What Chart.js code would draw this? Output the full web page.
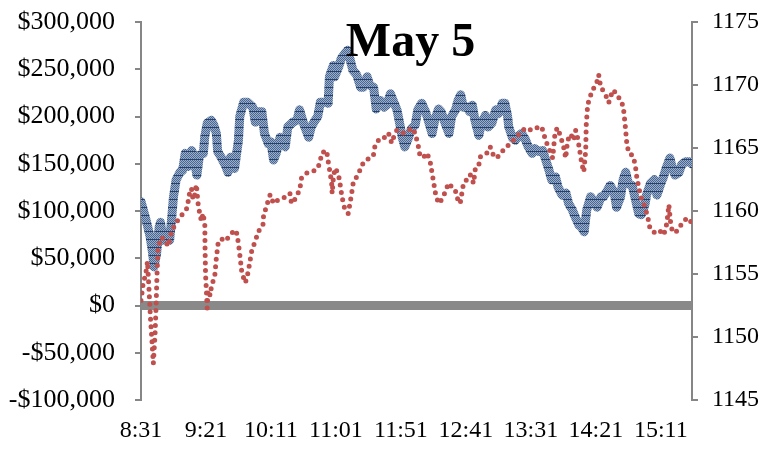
<!DOCTYPE html>
<html>
<head>
<meta charset="utf-8">
<script src="https://cdn.jsdelivr.net/npm/chart.js@4"></script>
<style>
  html, body { margin: 0; padding: 0; background: #fff; }
  #wrap { width: 774px; height: 454px; }
</style>
</head>
<body>
<div id="wrap"><canvas id="chart" width="774" height="454"></canvas></div>
<script>
const TITLE = 'May 5';

// x is minutes after 8:31
const xTickMinutes = [0, 50, 100, 150, 200, 250, 300, 350, 400];
const xTickLabels = ['8:31', '9:21', '10:11', '11:01', '11:51', '12:41', '13:31', '14:21', '15:11'];
const xMax = 424;

// blue series, left axis ($ thousands)
const blueMinutes = [
  0, 4, 7, 9, 10, 12, 14, 15, 17, 19, 22, 23, 25, 27, 30, 32, 34, 36, 39, 41,
  43, 45, 48, 49, 51, 54, 56, 58, 59, 62, 65, 67, 69, 72, 75, 76, 79, 82, 86, 88,
  90, 93, 95, 98, 100, 102, 104, 107, 111, 113, 117, 120, 122, 125, 129, 131, 134, 136, 138, 142,
  144, 145, 148, 149, 152, 154, 157, 159, 161, 163, 166, 169, 171, 174, 176, 179, 181, 184, 187, 189,
  192, 194, 197, 199, 201, 203, 206, 208, 211, 213, 216, 219, 221, 224, 226, 229, 231, 234, 237, 239,
  242, 244, 246, 248, 251, 253, 255, 257, 260, 262, 265, 267, 270, 273, 275, 278, 280, 282, 283, 286,
  288, 291, 293, 296, 298, 301, 303, 306, 309, 311, 314, 316, 319, 321, 324, 327, 329, 332, 334, 337,
  339, 341, 343, 346, 348, 351, 354, 356, 359, 361, 364, 366, 369, 371, 373, 375, 378, 380, 383, 385,
  388, 389, 392, 395, 397, 400, 402, 404, 407, 409, 411, 414, 416, 419, 422, 424
];
const blueValues = [
  110, 90, 73, 55, 41, 55, 83, 88, 69, 77, 69, 83, 115, 133, 141, 143, 161, 147, 164, 154,
  138, 159, 161, 178, 193, 196, 191, 182, 163, 156, 148, 141, 157, 145, 175, 200, 215, 215, 210, 194,
  205, 205, 182, 171, 173, 154, 161, 178, 168, 189, 194, 196, 207, 193, 178, 189, 196, 200, 215, 215,
  214, 242, 254, 242, 252, 261, 267, 270, 260, 249, 244, 231, 231, 242, 233, 231, 208, 217, 210, 212,
  224, 217, 207, 193, 178, 168, 178, 187, 191, 207, 214, 205, 196, 182, 196, 208, 205, 193, 182, 200,
  207, 217, 223, 210, 210, 205, 212, 196, 180, 193, 201, 189, 193, 207, 203, 214, 214, 201, 189, 177,
  175, 180, 182, 175, 168, 161, 166, 163, 164, 156, 143, 133, 136, 125, 117, 119, 108, 101, 94, 85,
  83, 78, 101, 115, 111, 104, 115, 115, 122, 127, 120, 104, 115, 133, 141, 129, 127, 115, 97, 96,
  108, 117, 129, 133, 117, 129, 136, 145, 156, 145, 138, 141, 149, 152, 152, 150
];

// red series, right axis (index level)
const redMinutes = [
  0, 1.5, 3.9, 5.0, 6.2, 7.3, 8.5, 9.5, 10.8, 11.6, 12.3, 13.1, 15.6, 18.5, 20.8, 23.4, 26.0, 29.8, 32.4, 34.9,
  36.2, 37.5, 38.8, 40.1, 41.4, 42.6, 43.9, 45.2, 46.5, 47.8, 49.1, 49.3, 49.7, 50.5, 50.9, 51.6, 53.2, 54.2, 56.8, 58.0,
  59.3, 61.9, 65.0, 68.6, 72.4, 73.8, 75.0, 76.3, 77.6, 80.2, 81.5, 82.7, 84.0, 85.3, 87.9, 90.4, 93.8, 94.3, 96.9, 99.4,
  102.0, 105.8, 110.8, 114.6, 115.8, 119.7, 122.3, 123.5, 127.4, 131.3, 135.1, 137.7, 139.0, 142.8, 144.1, 145.4, 146.7, 147.1, 148.0, 149.3,
  151.8, 153.1, 154.4, 155.7, 157.0, 159.5, 160.8, 162.1, 163.4, 167.2, 169.8, 172.4, 176.3, 178.8, 180.1, 182.7, 185.2, 187.8, 190.4, 192.9,
  194.2, 196.8, 199.4, 201.9, 204.5, 208.3, 210.9, 213.5, 214.8, 217.6, 220.2, 222.7, 224.0, 225.3, 226.6, 228.9, 231.4, 234.1, 236.6, 239.2,
  241.8, 243.0, 245.6, 246.9, 248.2, 250.7, 253.3, 255.9, 257.2, 259.7, 261.0, 263.6, 266.1, 268.7, 271.3, 273.8, 277.7, 281.5, 285.4, 289.2,
  291.9, 295.7, 300.8, 304.7, 308.3, 311.4, 314.5, 316.8, 318.7, 320.6, 322.9, 325.2, 326.8, 328.3, 330.6, 333.0, 334.5, 336.0, 337.6, 339.1,
  340.7, 342.2, 342.6, 343.7, 345.3, 347.6, 350.7, 352.2, 353.8, 355.3, 357.6, 359.9, 361.5, 363.0, 365.3, 367.6, 369.9, 371.5, 372.6, 373.8,
  375.3, 378.4, 380.3, 381.5, 383.0, 384.6, 386.9, 388.4, 390.0, 391.5, 394.6, 398.5, 402.3, 404.6, 406.2, 407.7, 409.2, 412.3, 416.2, 419.6,
  422.7, 424
];
const redPrices = [
  1152.9, 1154.1, 1155.2, 1156.0, 1153.7, 1151.5, 1149.6, 1147.9, 1150.2, 1152.5, 1154.9, 1157.1, 1157.9, 1157.7, 1157.2, 1158.3, 1158.9, 1159.5, 1159.8, 1160.1,
  1160.7, 1161.5, 1161.8, 1160.9, 1161.3, 1162.1, 1160.6, 1159.8, 1159.2, 1159.8, 1158.9, 1156.9, 1154.9, 1153.3, 1152.3, 1153.7, 1153.3, 1154.0, 1154.9, 1156.3,
  1157.4, 1157.8, 1157.6, 1158.1, 1158.5, 1158.2, 1157.4, 1156.3, 1155.1, 1154.3, 1154.7, 1155.3, 1156.1, 1156.9, 1157.6, 1158.4, 1158.8, 1159.6, 1160.5, 1161.3,
  1160.6, 1160.9, 1161.1, 1161.4, 1160.6, 1161.1, 1161.8, 1162.6, 1163.0, 1163.1, 1163.3, 1163.8, 1164.6, 1164.8, 1163.9, 1163.1, 1162.2, 1161.4, 1162.6, 1163.4,
  1163.0, 1162.2, 1161.3, 1160.6, 1160.1, 1159.8, 1160.6, 1161.4, 1162.3, 1162.9, 1163.6, 1164.0, 1164.2, 1164.4, 1165.2, 1165.6, 1165.6, 1165.9, 1166.2, 1165.4,
  1165.8, 1166.4, 1166.2, 1166.2, 1166.3, 1166.6, 1166.2, 1165.1, 1164.3, 1164.3, 1164.6, 1163.8, 1163.0, 1162.2, 1161.4, 1160.6, 1160.9, 1161.5, 1162.2, 1161.9,
  1161.7, 1161.1, 1160.6, 1161.4, 1162.2, 1162.5, 1162.9, 1162.2, 1163.3, 1163.5, 1164.3, 1164.4, 1164.6, 1165.1, 1164.4, 1164.2, 1164.7, 1165.1, 1165.5, 1165.9,
  1166.2, 1166.6, 1166.4, 1166.6, 1166.7, 1165.6, 1164.8, 1164.2, 1166.3, 1166.6, 1165.9, 1165.1, 1164.2, 1165.6, 1166.1, 1165.6, 1166.4, 1165.8, 1164.8, 1163.8,
  1163.1, 1164.8, 1166.8, 1168.4, 1169.0, 1169.6, 1170.2, 1170.8, 1169.8, 1169.6, 1169.2, 1168.6, 1169.1, 1169.6, 1169.4, 1169.0, 1168.7, 1167.9, 1166.8, 1165.4,
  1164.6, 1164.4, 1163.7, 1162.7, 1161.9, 1161.1, 1160.6, 1160.1, 1159.5, 1158.7, 1158.3, 1158.5, 1158.1, 1159.0, 1160.5, 1158.9, 1158.3, 1158.4, 1159.0, 1159.4,
  1159.1, 1159.4
];

const zeroLine = [0, 0];

function toPoints(xs, ys) {
  return xs.map((x, i) => ({ x, y: ys[i] }));
}

function formatDollars(value) {
  const abs = Math.abs(value).toLocaleString('en-US');
  return (value < 0 ? '-$' : '$') + abs;
}

function makeBluePattern() {
  const tile = document.createElement('canvas');
  tile.width = 4;
  tile.height = 8;
  const t = tile.getContext('2d');
  t.fillStyle = '#9cafca';
  t.fillRect(0, 0, 4, 8);
  t.fillStyle = '#4a6791';
  for (let y = 0; y < 7; y += 1) {
    for (let x = y % 2; x < 4; x += 2) t.fillRect(x, y, 1, 1);
  }
  t.fillStyle = '#24406b';
  t.fillRect(0, 7, 4, 1);
  return t.createPattern(tile, 'repeat');
}

// fixed plot box; drop the label overhang chart.js adds above/below the axis
function fixVertical(width) {
  return (scale) => {
    scale.width = width;
    scale.paddingTop = 0;
    scale.paddingBottom = 0;
  };
}

const insideTitle = {
  id: 'insideTitle',
  afterDraw(chart) {
    const { ctx, chartArea } = chart;
    ctx.save();
    ctx.font = 'bold 48px "Liberation Serif", "Times New Roman", serif';
    ctx.fillStyle = '#000';
    ctx.textAlign = 'center';
    ctx.textBaseline = 'alphabetic';
    ctx.fillText(TITLE, (chartArea.left + chartArea.right) / 2 - 6, 56);
    ctx.restore();
  },
};

Chart.defaults.font.family = '"Liberation Serif", "Times New Roman", serif';
Chart.defaults.font.size = 24;
Chart.defaults.color = '#000';

const axisGray = '#868686';

new Chart(document.getElementById('chart').getContext('2d'), {
  type: 'line',
  data: {
    datasets: [
      {
        label: 'Index',
        data: toPoints(redMinutes, redPrices),
        yAxisID: 'y1',
        borderColor: '#c0504d',
        borderWidth: 5,
        borderDash: [0, 7.5],
        borderCapStyle: 'round',
        borderJoinStyle: 'round',
        pointRadius: 0,
        tension: 0,
      },
      {
        label: 'P&L',
        data: toPoints(blueMinutes, blueValues.map((v) => v * 1000)),
        yAxisID: 'y',
        borderColor: makeBluePattern(),
        borderWidth: 9,
        borderCapStyle: 'round',
        borderJoinStyle: 'round',
        pointRadius: 0,
        tension: 0,
      },
      {
        label: 'zero',
        data: toPoints([0, xMax], zeroLine),
        yAxisID: 'y',
        borderColor: '#898989',
        borderWidth: 9,
        borderCapStyle: 'butt',
        pointRadius: 0,
      },
    ],
  },
  options: {
    responsive: false,
    animation: false,
    devicePixelRatio: 1,
    layout: { padding: { top: 22, left: 0, right: 0, bottom: 0 } },
    plugins: {
      legend: { display: false },
      tooltip: { enabled: false },
    },
    scales: {
      x: {
        type: 'linear',
        min: 0,
        max: xMax,
        grid: { display: false },
        border: { display: false },
        afterBuildTicks(scale) {
          scale.ticks = xTickMinutes.map((value) => ({ value }));
        },
        afterFit(scale) { scale.height = 54; },
        ticks: {
          autoSkip: false,
          maxRotation: 0,
          padding: 8,
          callback: (value, index) => xTickLabels[index],
        },
      },
      y: {
        position: 'left',
        min: -100000,
        max: 300000,
        afterFit: fixVertical(141),
        grid: { display: true, drawOnChartArea: false, drawTicks: true, tickLength: 6, color: axisGray, lineWidth: 2 },
        border: { display: true, color: axisGray, width: 2 },
        ticks: { stepSize: 50000, padding: 20, font: { size: 26 }, callback: formatDollars },
      },
      y1: {
        position: 'right',
        min: 1145,
        max: 1175,
        afterFit: fixVertical(82),
        grid: { display: true, drawOnChartArea: false, drawTicks: true, tickLength: 6, color: axisGray, lineWidth: 2 },
        border: { display: true, color: axisGray, width: 2 },
        ticks: { stepSize: 5, padding: 14, callback: (value) => String(value) },
      },
    },
  },
  plugins: [insideTitle],
});
</script>
</body>
</html>
